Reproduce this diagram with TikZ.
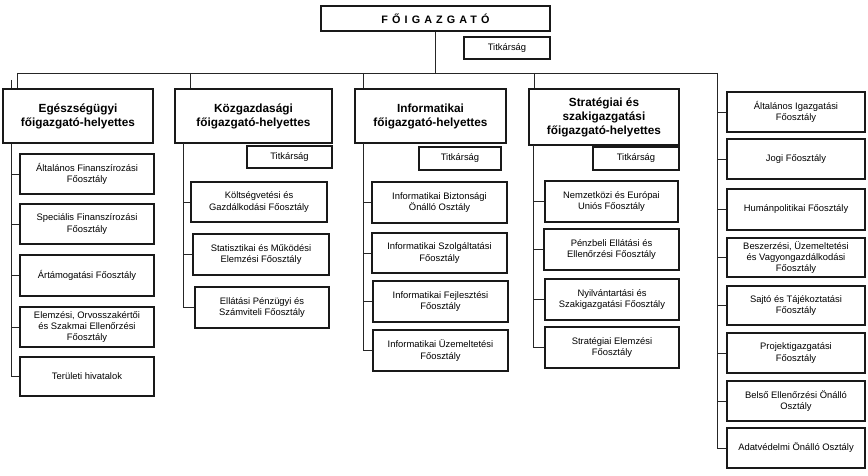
\documentclass[tikz,border=0pt]{standalone}
\usepackage{fontspec}
\setmainfont{Liberation Sans}
\newfontfamily\spacedfont[LetterSpace=38]{Liberation Sans}
\begin{document}
\begin{tikzpicture}[x=1pt,y=-1pt,
  bigbox/.style={draw=black!90,line width=2.8pt,inner sep=0pt,align=center,font=\fontsize{11.8}{14}\selectfont\bfseries},
  smallbox/.style={draw=black!90,line width=1.9pt,inner sep=0pt,align=center,font=\fontsize{9.4}{11.4}\selectfont},
  conn/.style={draw=black!85,line width=0.8pt}]
\useasboundingbox (0,0) rectangle (868,476);
\newcommand\bx[7]{\node[#6,minimum width={#4-#2},minimum height={#5-#3}] (#1) at ({(#2+#4)/2},{(#3+#5)/2}) {#7};}
% top
\bx{top}{321}{6}{550}{31}{bigbox}{\spacedfont\fontsize{10.8}{12}\selectfont\bfseries FŐIGAZGATÓ}
\bx{tt}{464}{37}{550}{59}{smallbox}{Titkárság}
% deputies
\bx{eg}{3}{89}{153}{143}{bigbox}{Egészségügyi\\főigazgató-helyettes}
\bx{kg}{175}{89}{332}{143}{bigbox}{Közgazdasági\\főigazgató-helyettes}
\bx{inf}{355}{89}{506}{143}{bigbox}{Informatikai\\főigazgató-helyettes}
\bx{st}{529}{89}{679}{145}{bigbox}{Stratégiai és\\szakigazgatási\\főigazgató-helyettes}
\bx{kgt}{247}{146}{332}{168}{smallbox}{Titkárság}
\bx{inft}{419}{147}{501}{170}{smallbox}{Titkárság}
\bx{stt}{593}{147}{679}{170}{smallbox}{Titkárság}
% column 1
\bx{a1}{20}{154}{154}{194}{smallbox}{Általános Finanszírozási\\Főosztály}
\bx{a2}{20}{204}{154}{244}{smallbox}{Speciális Finanszírozási\\Főosztály}
\bx{a3}{20}{255}{154}{296}{smallbox}{Ártámogatási Főosztály}
\bx{a4}{20}{307}{154}{347}{smallbox}{Elemzési, Orvosszakértői\\és Szakmai Ellenőrzési\\Főosztály}
\bx{a5}{20}{357}{154}{396}{smallbox}{Területi hivatalok}
% column 2
\bx{b1}{191}{182}{327}{222}{smallbox}{Költségvetési és\\Gazdálkodási Főosztály}
\bx{b2}{193}{234}{329}{275}{smallbox}{Statisztikai és Működési\\Elemzési Főosztály}
\bx{b3}{195}{287}{329}{328}{smallbox}{Ellátási Pénzügyi és\\Számviteli Főosztály}
% column 3
\bx{c1}{372}{182}{507}{223}{smallbox}{Informatikai Biztonsági\\Önálló Osztály}
\bx{c2}{372}{233}{507}{273}{smallbox}{Informatikai Szolgáltatási\\Főosztály}
\bx{c3}{373}{281}{508}{322}{smallbox}{Informatikai Fejlesztési\\Főosztály}
\bx{c4}{373}{330}{508}{371}{smallbox}{Informatikai Üzemeltetési\\Főosztály}
% column 4
\bx{d1}{545}{181}{678}{222}{smallbox}{Nemzetközi és Európai\\Uniós Főosztály}
\bx{d2}{544}{229}{679}{270}{smallbox}{Pénzbeli Ellátási  és\\Ellenőrzési Főosztály}
\bx{d3}{545}{279}{679}{320}{smallbox}{Nyilvántartási és\\Szakigazgatási Főosztály}
\bx{d4}{545}{327}{679}{368}{smallbox}{Stratégiai Elemzési\\Főosztály}
% column 5
\bx{e1}{727}{92}{865}{132}{smallbox}{Általános Igazgatási\\Főosztály}
\bx{e2}{727}{139}{865}{179}{smallbox}{Jogi Főosztály}
\bx{e3}{727}{189}{865}{230}{smallbox}{Humánpolitikai Főosztály}
\bx{e4}{727}{238}{865}{277}{smallbox}{Beszerzési, Üzemeltetési\\és Vagyongazdálkodási\\Főosztály}
\bx{e5}{727}{286}{865}{325}{smallbox}{Sajtó  és  Tájékoztatási\\Főosztály}
\bx{e6}{727}{333}{865}{373}{smallbox}{Projektigazgatási\\Főosztály}
\bx{e7}{727}{381}{865}{421}{smallbox}{Belső Ellenőrzési Önálló\\Osztály}
\bx{e8}{727}{428}{865}{468}{smallbox}{Adatvédelmi Önálló Osztály}
% bus coordinates
\coordinate (busL) at (17,73);
\coordinate (busR) at (717,73);
\coordinate (dk) at (190,73);
\coordinate (di) at (363,73);
\coordinate (ds) at (534,73);
\coordinate (s1) at (11,80);
\coordinate (s2) at (183,143);
\coordinate (s3) at (363,143);
\coordinate (s4) at (533,145);
\draw[conn] (top.south) -- (top.south |- busL);
\draw[conn] (busL) -- (busR);
\draw[conn] (busL) -- (busL |- eg.north);
\draw[conn] (dk) -- (dk |- kg.north);
\draw[conn] (di) -- (di |- inf.north);
\draw[conn] (ds) -- (ds |- st.north);
% spines
\draw[conn] (s1) -- (s1 |- eg.north);
\draw[conn] (s1 |- eg.south) |- (a5.west);
\foreach \n in {a1,a2,a3,a4} \draw[conn] (s1 |- \n.west) -- (\n.west);
\draw[conn] (s2) |- (b3.west);
\foreach \n in {b1,b2} \draw[conn] (s2 |- \n.west) -- (\n.west);
\draw[conn] (s3) |- (c4.west);
\foreach \n in {c1,c2,c3} \draw[conn] (s3 |- \n.west) -- (\n.west);
\draw[conn] (s4) |- (d4.west);
\foreach \n in {d1,d2,d3} \draw[conn] (s4 |- \n.west) -- (\n.west);
\draw[conn] (busR) |- (e8.west);
\foreach \n in {e1,e2,e3,e4,e5,e6,e7} \draw[conn] (busR |- \n.west) -- (\n.west);
\end{tikzpicture}
\end{document}
